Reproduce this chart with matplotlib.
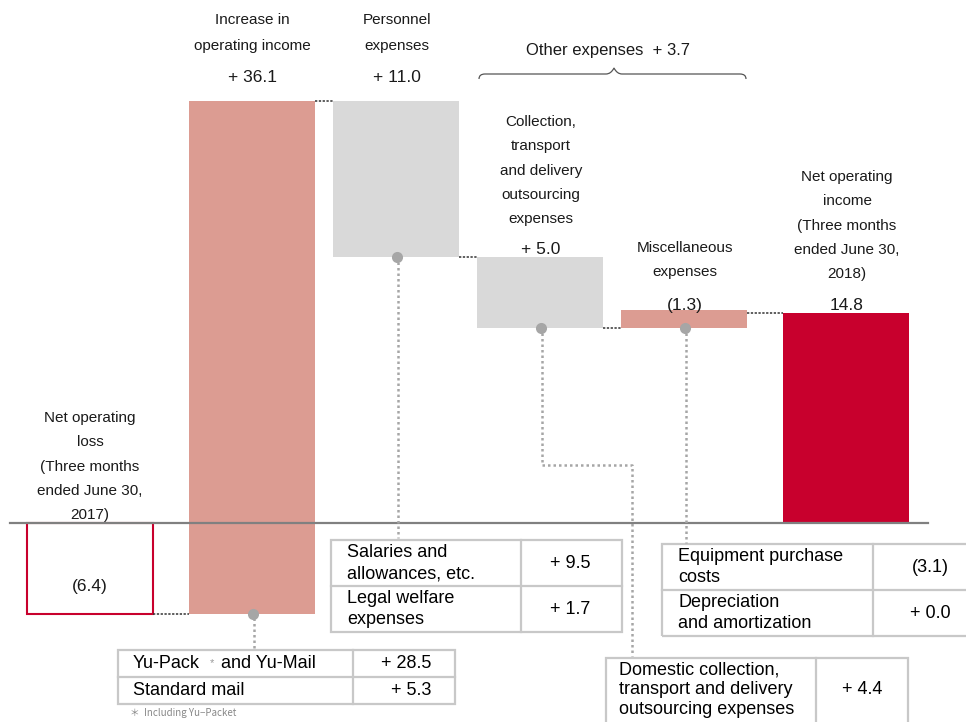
import numpy as np
import matplotlib.pyplot as plt
from matplotlib.patches import Rectangle, PathPatch
from matplotlib.path import Path

# ---- data (billion yen) ----
steps = ['Net operating loss', 'Increase in operating income', 'Personnel expenses',
         'Collection, transport and delivery outsourcing expenses',
         'Miscellaneous expenses', 'Net operating income']
start_val = -6.4
deltas = [36.1, -11.0, -5.0, 1.3]
end_val = 14.8
other_total = 3.7

head_labels = ['Net operating\nloss\n(Three months\nended June 30,\n2017)',
               'Increase in\noperating income',
               'Personnel\nexpenses',
               'Collection,\ntransport\nand delivery\noutsourcing\nexpenses',
               'Miscellaneous\nexpenses',
               'Net operating\nincome\n(Three months\nended June 30,\n2018)']
value_labels = ['(6.4)', '+ 36.1', '+ 11.0', '+ 5.0', '(1.3)', '14.8']

tab_yu = [('Yu-Pack', '+ 28.5'), ('Standard mail', '+ 5.3')]
tab_pers = [('Salaries and\nallowances, etc.', '+ 9.5'), ('Legal welfare\nexpenses', '+ 1.7')]
tab_misc = [('Equipment purchase\ncosts', '(3.1)'), ('Depreciation\nand amortization', '+ 0.0')]
tab_coll = [('Domestic collection,\ntransport and delivery\noutsourcing expenses', '+ 4.4')]

c_up = '#DC9C92'
c_gray = '#D9D9D9'
c_red = '#C8002D'
c_line = '#C8C8C8'
c_lead = '#A6A6A6'

W, H = 966, 722
fig = plt.figure(figsize=(W / 100, H / 100), dpi=100)
ax = fig.add_axes([0, 0, 1, 1])
ax.axis('off')

# axes scale: category i centred at pixel 108+144*i, baseline at pixel 523
X0, DX, Y0, SY = 108, 144, 523, 14.2
ax.set_xlim((0 - X0) / DX, (W - X0) / DX)
ax.set_ylim((Y0 - H) / SY, Y0 / SY)

def P(x, y):
    # pixel position -> figure fraction (for annotations)
    return x / W, 1 - y / H

lab_font = ['Liberation Sans', 'DejaVu Sans']
tab_font = ['Liberation Sans', 'DejaVu Sans']

# ---- waterfall ----
cum = np.concatenate([[start_val], start_val + np.cumsum(deltas)])
bottoms = [0] + [min(cum[i], cum[i + 1]) for i in range(len(deltas))] + [0]
heights = [start_val] + [abs(d) for d in deltas] + [end_val]
colors = ['white', c_up, c_gray, c_gray, c_up, c_red]
bw = 126 / 144
xs = np.arange(len(steps)).astype(float)
xs[0] -= 0.125   # totals sit a little apart from the steps
xs[-1] += 0.125
for i, x in enumerate(xs):
    if i == 0:
        ax.bar(x, heights[i], bottom=0, width=bw, color='white', edgecolor=c_red, linewidth=1.5, zorder=2)
    else:
        ax.bar(x, heights[i], bottom=bottoms[i], width=bw, color=colors[i], linewidth=0, zorder=2)

# connectors
conn = [cum[0], cum[1], cum[2], cum[3], end_val]
for i, lv in enumerate(conn):
    ax.plot([xs[i] + bw / 2, xs[i + 1] - bw / 2], [lv, lv], color='#333333', lw=1.1,
            ls=(0, (1.5, 1)), zorder=3)

# baseline
ax.axhline(0, xmin=10 / W, xmax=928 / W, color='#808080', lw=1.6, zorder=3)

# ---- labels ----
def lines(x, y0, text, step=24.3, size=11, **kw):
    for k, t in enumerate(text.split('\n')):
        fig.text(*P(x, y0 + k * step), t, ha='center', va='center', fontsize=size,
                 family=lab_font, color='#1a1a1a', **kw)

lines(90, 418, head_labels[0])
lines(252, 20, head_labels[1], step=26)
lines(397, 20, head_labels[2], step=26)
lines(541, 122, head_labels[3])
lines(685, 248, head_labels[4])
lines(847, 177, head_labels[5])

val_pos = [(90, 586), (252, 78), (397, 78), (541, 250), (685, 305), (847, 306)]
for (x, y), t in zip(val_pos, value_labels):
    fig.text(*P(x, y), t, ha='center', va='center', fontsize=12.5, family=lab_font, color='#1a1a1a')

fig.text(*P(608, 50), 'Other expenses  + %.1f' % other_total, ha='center', va='center',
         fontsize=12, family=lab_font, color='#1a1a1a')

# brace
bx0, bx1, bxm, by = 479, 746, 614, 74
verts = [(bx0, 79), (bx0, by), (bx0 + 6, by), (bxm - 8, by), (bxm - 3, by), (bxm, 68),
         (bxm + 3, by), (bxm + 8, by), (bx1 - 6, by), (bx1, by), (bx1, 79)]
codes = [Path.MOVETO, Path.CURVE3, Path.CURVE3, Path.LINETO, Path.CURVE3, Path.CURVE3,
         Path.CURVE3, Path.CURVE3, Path.LINETO, Path.CURVE3, Path.CURVE3]
fverts = [P(x, y) for x, y in verts]
fig.patches.append(PathPatch(Path(fverts, codes), transform=fig.transFigure,
                             fill=False, edgecolor='#555555', lw=0.9))

# ---- leaders ----
def dot(i, y):
    ax.plot([xs[i] + 0.01], [y], marker='o', ms=8, color=c_lead, zorder=4, mec='none')

def dotted(pts):
    xy = [P(x, y) for x, y in pts]
    fig.add_artist(plt.Line2D([p[0] for p in xy], [p[1] for p in xy], transform=fig.transFigure,
                              color=c_lead, lw=1.8, ls=(0, (1, 1.2))))

dot(1, bottoms[1]); dotted([(254, 618), (254, 648)])
dot(2, bottoms[2]); dotted([(398, 262), (398, 538)])
dot(3, bottoms[3]); dotted([(542, 333), (542, 465), (632, 465), (632, 656)])
dot(4, bottoms[4]); dotted([(686, 333), (686, 543)])

# ---- tables ----
def table(x0, x1, xdiv, y0, rows_y, rows, text_x, val_x, val_ha='center', size=13, step=21.5, shift=0):
    y1 = rows_y[-1]
    fig.patches.append(Rectangle(P(x0, y1), (x1 - x0) / W, (y1 - y0) / H, transform=fig.transFigure,
                                 fill=False, edgecolor=c_line, lw=1.6))
    fig.add_artist(plt.Line2D([x / W for x in (xdiv, xdiv)], [1 - y0 / H, 1 - y1 / H],
                              transform=fig.transFigure, color=c_line, lw=1.6))
    prev = y0
    for k, (name, val) in enumerate(rows):
        yb = rows_y[k]
        if k < len(rows) - 1:
            fig.add_artist(plt.Line2D([x0 / W, x1 / W], [1 - yb / H] * 2,
                                      transform=fig.transFigure, color=c_line, lw=1.6))
        yc = (prev + yb) / 2 + shift
        nl = name.split('\n')
        for j, t in enumerate(nl):
            fig.text(*P(text_x, yc + (j - (len(nl) - 1) / 2) * step), t, ha='left', va='center',
                     fontsize=size, family=tab_font, color='black')
        fig.text(*P(val_x, yc), val, ha=val_ha, va='center', fontsize=size, family=tab_font, color='black')
        prev = yb

table(118, 455, 353, 650, [677, 704], tab_yu, 133, 431, val_ha='right')
table(331, 622, 521, 540, [586, 632], tab_pers, 347, 570)
table(662, 968, 873, 544, [590, 636], tab_misc, 678, 930)
table(606, 908, 816, 658, [730], tab_coll, 619, 862, step=20, shift=-4)

# Yu-Pack asterisk and the rest of its name
fig.text(*P(212, 663), '*', ha='center', va='center', fontsize=8, color='#999999', family=tab_font)
fig.text(*P(221, 663), 'and Yu-Mail', ha='left', va='center', fontsize=13, family=tab_font, color='black')

fig.text(*P(130, 713), '＊  Including Yu\u2212Packet', ha='left', va='center', fontsize=7,
         color='#888888', family=['Noto Sans CJK JP', 'DejaVu Sans'])

fig.savefig('out.png', dpi=100)
